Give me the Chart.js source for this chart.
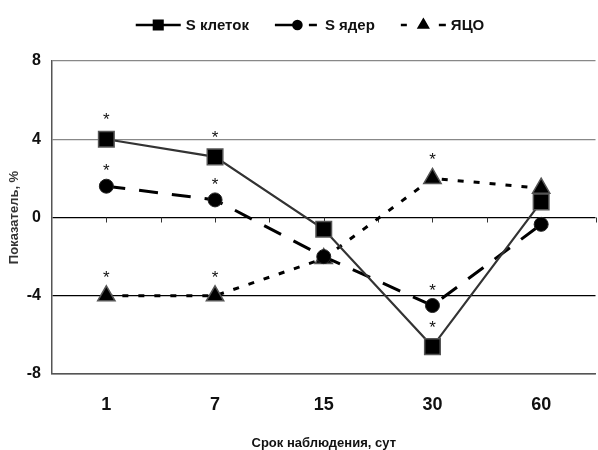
<!DOCTYPE html>
<html>
<head>
<meta charset="utf-8">
<script src="https://cdn.jsdelivr.net/npm/chart.js@4"></script>
<style>
  html, body { margin: 0; padding: 0; overflow: hidden; background: #fff; width: 598px; height: 450px; }
  #wrap { width: 608px; height: 450px; }
</style>
</head>
<body>
<div id="wrap"><canvas id="chart" width="608" height="450"></canvas></div>
<script>
// observation days (x categories)
const days = ['1', '7', '15', '30', '60'];

// series values, %
const sCells  = [4.0, 3.1, -0.6, -6.6, 0.8];
const sNuclei = [1.6, 0.9, -2.0, -4.5, -0.35];
const nco     = [-4.0, -4.0, -2.1, 2.0, 1.5];

// significance marks (*) per point
const starsCells  = [true, true, false, true, false];
const starsNuclei = [true, true, false, true, false];
const starsNco    = [true, true, false, true, false];

const yMin = -8, yMax = 8, yStep = 4;

const FONT = '"Liberation Sans", Arial, sans-serif';

// draws the "*" marks above flagged points
const starsPlugin = {
    id: 'stars',
    afterDatasetsDraw(chart) {
        const ctx = chart.ctx;
        ctx.save();
        ctx.fillStyle = '#111';
        ctx.font = '17px ' + FONT;
        ctx.textAlign = 'center';
        ctx.textBaseline = 'alphabetic';
        chart.data.datasets.forEach((ds, i) => {
            const meta = chart.getDatasetMeta(i);
            (ds.stars || []).forEach((on, j) => {
                if (!on) return;
                const p = meta.data[j];
                ctx.fillText('*', p.x, p.y - ds.pointRadius - 3);
            });
        });
        ctx.restore();
    }
};

// small tick marks hanging from the zero line
const zeroTicksPlugin = {
    id: 'zeroTicks',
    beforeDatasetsDraw(chart) {
        const x = chart.scales.x, y = chart.scales.y;
        const y0 = y.getPixelForValue(0);
        const ctx = chart.ctx;
        ctx.save();
        ctx.strokeStyle = '#333';
        ctx.lineWidth = 1;
        ctx.beginPath();
        for (let i = 0; i < days.length; i++) {
            [i, i + 0.5].forEach(v => {
                const px = Math.round(x.getPixelForValue(v)) + 0.5;
                ctx.moveTo(px, y0);
                ctx.lineTo(px, y0 + 5);
            });
        }
        ctx.stroke();
        ctx.restore();
    }
};

// legend: line sample with marker in the middle
const lineLegendPlugin = {
    id: 'lineLegend',
    afterDraw(chart) {
        const ctx = chart.ctx;
        const sample = 45, gap = 5, spacing = 26, cy = 25;
        ctx.save();
        ctx.font = 'bold 15px ' + FONT;
        ctx.textBaseline = 'middle';
        const items = chart.data.datasets.map(ds => ({ ds, w: sample + gap + ctx.measureText(ds.label).width }));
        const total = items.reduce((s, it) => s + it.w, 0) + spacing * (items.length - 1);
        let x = 310 - total / 2;
        items.forEach(({ ds, w }) => {
            ctx.strokeStyle = '#000';
            ctx.lineWidth = 2.6;
            ctx.setLineDash(ds.legendDash || []);
            ctx.beginPath();
            ctx.moveTo(x, cy);
            ctx.lineTo(x + sample, cy);
            ctx.stroke();
            ctx.setLineDash([]);
            ctx.fillStyle = '#000';
            ctx.strokeStyle = '#000';
            Chart.helpers.drawPoint(ctx, { pointStyle: ds.pointStyle, radius: ds.legendRadius, rotation: 0, borderWidth: 1 }, x + sample / 2, cy);
            ctx.fillStyle = '#111';
            ctx.fillText(ds.label, x + sample + gap, cy + 1);
            x += w + spacing;
        });
        ctx.restore();
    }
};

const gridColor = ctx => {
    const v = ctx.tick ? ctx.tick.value : null;
    if (v === 0 || v === -4) return '#000';
    if (v === yMin) return '#555';
    return '#888';
};

new Chart(document.getElementById('chart'), {
    type: 'line',
    data: {
        labels: days,
        datasets: [{
            label: 'S клеток',
            data: sCells,
            stars: starsCells,
            borderColor: '#333',
            borderWidth: 2.2,
            pointStyle: 'rect',
            pointRadius: 11,
            pointBackgroundColor: '#000',
            pointBorderColor: '#555',
            pointBorderWidth: 1.5,
            legendRadius: 6,
            legendDash: [],
            tension: 0
        }, {
            label: 'S ядер',
            data: sNuclei,
            stars: starsNuclei,
            borderColor: '#000',
            borderWidth: 3,
            borderDash: [19, 14],
            pointStyle: 'circle',
            pointRadius: 7,
            pointBackgroundColor: '#000',
            pointBorderColor: '#222',
            pointBorderWidth: 1,
            legendRadius: 4,
            legendDash: [24, 10, 8, 10],
            tension: 0
        }, {
            label: 'ЯЦО',
            data: nco,
            stars: starsNco,
            borderColor: '#000',
            borderWidth: 3,
            borderDash: [6, 10],
            pointStyle: 'triangle',
            pointRadius: 10,
            pointBackgroundColor: '#000',
            pointBorderColor: '#555',
            pointBorderWidth: 1.5,
            legendRadius: 5,
            legendDash: [6, 32, 7],
            tension: 0
        }]
    },
    options: {
        responsive: false,
        animation: false,
        layout: { padding: { top: 61, right: 2, left: 0, bottom: 0 } },
        plugins: {
            legend: { display: false },
            tooltip: { enabled: false }
        },
        scales: {
            x: {
                offset: true,
                grid: { display: false, drawTicks: false },
                border: { display: true, color: '#555', width: 1.5 },
                ticks: {
                    padding: 20,
                    color: '#111',
                    font: { family: FONT, size: 18, weight: 'bold' }
                },
                title: {
                    display: true,
                    text: 'Срок наблюдения, сут',
                    color: '#111',
                    padding: { top: 0, bottom: 0 },
                    font: { family: FONT, size: 13, weight: 'bold', lineHeight: 1 }
                },
                afterFit: s => { s.height = 76; }
            },
            y: {
                min: yMin,
                max: yMax,
                grid: { color: gridColor, lineWidth: 1.3, drawTicks: false },
                border: { display: true, color: '#555', width: 1.5 },
                ticks: {
                    stepSize: yStep,
                    padding: 11,
                    color: '#111',
                    font: { family: FONT, size: 16, weight: 'bold' }
                },
                title: {
                    display: true,
                    text: 'Показатель, %',
                    color: '#333',
                    padding: { top: 7, bottom: 0 },
                    font: { family: FONT, size: 13, weight: 'bold' }
                },
                afterFit: s => { s.width = 52; }
            }
        }
    },
    plugins: [zeroTicksPlugin, starsPlugin, lineLegendPlugin]
});
</script>
</body>
</html>
